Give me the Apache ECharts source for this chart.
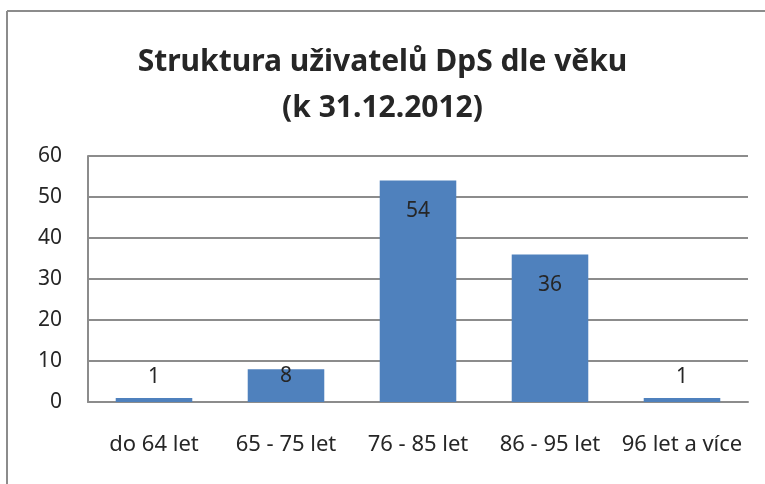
<!DOCTYPE html>
<html>
<head>
<meta charset="utf-8">
<script src="https://cdn.jsdelivr.net/npm/echarts@6/dist/echarts.min.js"></script>
<style>
    html, body { margin: 0; padding: 0; background: #fff; }
    #chart { width: 765px; height: 484px; }
</style>
</head>
<body>
<div id="chart"></div>
<script>
var categories = ['do 64 let', '65 - 75 let', '76 - 85 let', '86 - 95 let', '96 let a více'];
var values = [1, 8, 54, 36, 1];
var yTicks = [0, 10, 20, 30, 40, 50, 60];

(function () {
    var font = '"Noto Sans", "Open Sans", sans-serif';
    var textColor = '#262626';
    var lineColor = '#8c8c8c';

    // Excel-like label placement: inside end for tall bars, above for tiny ones
    var seriesData = values.map(function (v) {
        var label;
        if (v >= 20) {
            label = { position: 'insideTop', distance: 20 };
        } else if (v >= 5) {
            label = { position: 'insideTop', distance: -4 };
        } else {
            label = { position: 'top', distance: 10 };
        }
        return { value: v, label: label };
    });

    var myChart = echarts.init(document.getElementById('chart'));
    var option = {
        animation: false,
        title: {
            text: 'Struktura uživatelů DpS dle věku\n(k 31.12.2012)',
            left: 'center',
            top: 34,
            textStyle: {
                fontFamily: font,
                fontWeight: 'bold',
                fontSize: 30,
                lineHeight: 46,
                color: textColor
            }
        },
        graphic: [
            { type: 'line', shape: { x1: 7, y1: 11, x2: 765, y2: 11 }, style: { stroke: lineColor, lineWidth: 2 } },
            { type: 'line', shape: { x1: 7, y1: 11, x2: 7, y2: 484 }, style: { stroke: lineColor, lineWidth: 2 } }
        ],
        grid: {
            left: 88,
            right: 17,
            top: 156,
            bottom: 82
        },
        xAxis: {
            type: 'category',
            data: categories,
            axisTick: { show: false },
            axisLine: { lineStyle: { color: lineColor, width: 2 } },
            axisLabel: {
                interval: 0,
                margin: 32,
                fontFamily: font,
                fontSize: 22,
                color: textColor
            }
        },
        yAxis: {
            type: 'value',
            min: yTicks[0],
            max: yTicks[yTicks.length - 1],
            interval: 10,
            axisLine: { show: true, lineStyle: { color: lineColor, width: 2 } },
            axisTick: { show: false },
            splitLine: { lineStyle: { color: lineColor, width: 2 } },
            axisLabel: {
                margin: 26,
                fontFamily: font,
                fontSize: 21,
                color: textColor
            }
        },
        series: [{
            type: 'bar',
            data: seriesData,
            barWidth: '58%',
            itemStyle: { color: '#4f81bd' },
            label: {
                show: true,
                fontFamily: font,
                fontSize: 21,
                color: textColor
            }
        }]
    };
    myChart.setOption(option, true);
})();
</script>
</body>
</html>
